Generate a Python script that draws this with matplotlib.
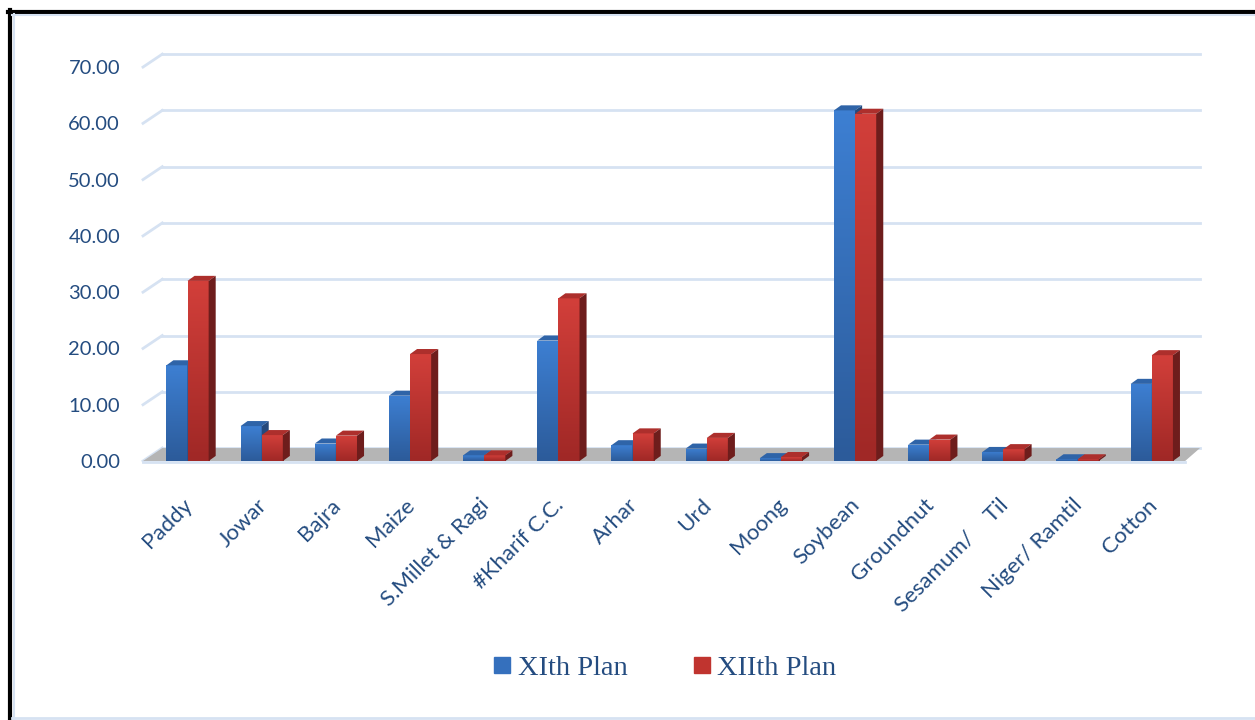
import numpy as np
import matplotlib.pyplot as plt
from matplotlib.patches import Polygon
from matplotlib.lines import Line2D
from matplotlib.colors import LinearSegmentedColormap

crops = ['Paddy', 'Jowar', 'Bajra', 'Maize', 'S.Millet & Ragi', '#Kharif C.C.',
         'Arhar', 'Urd', 'Moong', 'Soybean', 'Groundnut', 'Sesamum/    Til',
         'Niger/ Ramtil', 'Cotton']
xi_plan = [17.0, 6.2, 3.1, 11.6, 1.0, 21.4, 2.8, 2.2, 0.5, 62.3, 2.9, 1.6, 0.3, 13.7]
xii_plan = [32.0, 4.6, 4.5, 19.0, 1.0, 28.9, 4.9, 4.1, 0.7, 61.7, 3.8, 2.1, 0.3, 18.8]
yticks = [0, 10, 20, 30, 40, 50, 60, 70]
series_names = ['XIth Plan', 'XIIth Plan']

TEXT_BLUE = '#244c80'
GRID = '#d6e2f2'
# front / top / side colours for each series
BLUE = dict(top='#3d7fd2', bottom='#2c5b9a', cap='#2f64a8', side='#25497c')
RED = dict(top='#d23f3a', bottom='#a02826', cap='#ad2f2c', side='#6e1d1c')

plt.rcParams['font.family'] = ['Lato', 'DejaVu Sans']

fig = plt.figure(figsize=(12.55, 7.2), dpi=100)
ax = fig.add_axes([143 / 1255, 259 / 720, 1057 / 1255, 408 / 720])
ax.set_autoscale_on(False)
XMIN, XMAX, YMAX = -0.6, 13.65, 72.5
ax.set_xlim(XMIN, XMAX)
ax.set_ylim(0, YMAX)

# depth of the back wall and of the bars (data units)
DX, DY = 0.26, 2.3
BDX, BDY = 0.095, 0.9
W = 0.285

# back wall gridlines + left side wall
for v in yticks:
    ax.plot([XMIN + DX, XMAX], [v + DY, v + DY], color=GRID, lw=2, zorder=1, clip_on=False)
    ax.plot([XMIN, XMIN + DX], [v, v + DY], color=GRID, lw=2, zorder=1, clip_on=False)
ax.plot([XMIN, 13.45], [-0.25, -0.25], color=GRID, lw=2, zorder=1, clip_on=False)

floor = Polygon([(XMIN, 0), (13.45, 0), (XMAX, DY), (XMIN + DX, DY)],
                closed=True, facecolor='#b5b5b5', edgecolor='none', zorder=2)
ax.add_patch(floor)


def bar3d(x0, v, col, z):
    x1 = x0 + W
    front = ax.bar(x0, v, width=W, align='edge', color=col['bottom'],
                   linewidth=0, zorder=z)[0]
    cmap = LinearSegmentedColormap.from_list('grad', [col['bottom'], col['top']])
    grad = np.linspace(0, 1, 64).reshape(-1, 1)
    im = ax.imshow(grad, cmap=cmap, extent=(x0, x1, 0, v), origin='lower',
                   aspect='auto', interpolation='bilinear', zorder=z + 0.1)
    im.set_clip_path(front)
    ax.add_patch(Polygon([(x0, v), (x1, v), (x1 + BDX, v + BDY), (x0 + BDX, v + BDY)],
                         closed=True, facecolor=col['cap'], edgecolor='none', zorder=z + 0.2))
    ax.add_patch(Polygon([(x1, 0), (x1 + BDX, BDY), (x1 + BDX, v + BDY), (x1, v)],
                         closed=True, facecolor=col['side'], edgecolor='none', zorder=z + 0.2))


x = np.arange(len(crops))
for i in range(len(crops)):
    bar3d(x[i] - W, xi_plan[i], BLUE, 3)
    bar3d(x[i], xii_plan[i], RED, 4)

# axis styling
for s in ax.spines.values():
    s.set_visible(False)
ax.set_xticks([])
ax.set_yticks(yticks)
ax.set_yticklabels([f'{v:.2f}' for v in yticks])
ax.tick_params(axis='y', length=0, pad=16.5, labelsize=14.5, labelcolor=TEXT_BLUE)
ax.patch.set_alpha(0)

for i, name in enumerate(crops):
    ax.text(x[i] - 0.07, -0.083, name, transform=ax.get_xaxis_transform(),
            rotation=45, rotation_mode='anchor', ha='right', va='top',
            fontsize=16, color=TEXT_BLUE)

# legend
handles = [Line2D([], [], marker='s', linestyle='none', markersize=11.5,
                  markerfacecolor=c, markeredgecolor=c)
           for c in ['#3570bd', '#c0342f']]
leg = fig.legend(handles, series_names, loc='center', bbox_to_anchor=(0.53, 0.072),
                 ncol=2, frameon=False, handlelength=0.6, handletextpad=0.25,
                 columnspacing=2.3, prop={'family': 'Liberation Serif', 'size': 20.5})
for t in leg.get_texts():
    t.set_color(TEXT_BLUE)

# chart frame
fig.add_artist(Line2D([8 / 1255, 1], [1 - 11.5 / 720] * 2, color='black', lw=3))
fig.add_artist(Line2D([9.5 / 1255] * 2, [0, 1 - 10 / 720], color='black', lw=3))
fig.add_artist(Line2D([12 / 1255, 1], [1 - 15 / 720] * 2, color=GRID, lw=1.5))
fig.add_artist(Line2D([13.5 / 1255] * 2, [0, 1 - 14 / 720], color=GRID, lw=1.5))
fig.add_artist(Line2D([12 / 1255, 1], [2 / 720] * 2, color=GRID, lw=2))

fig.savefig('out.png', dpi=100, facecolor='white')
